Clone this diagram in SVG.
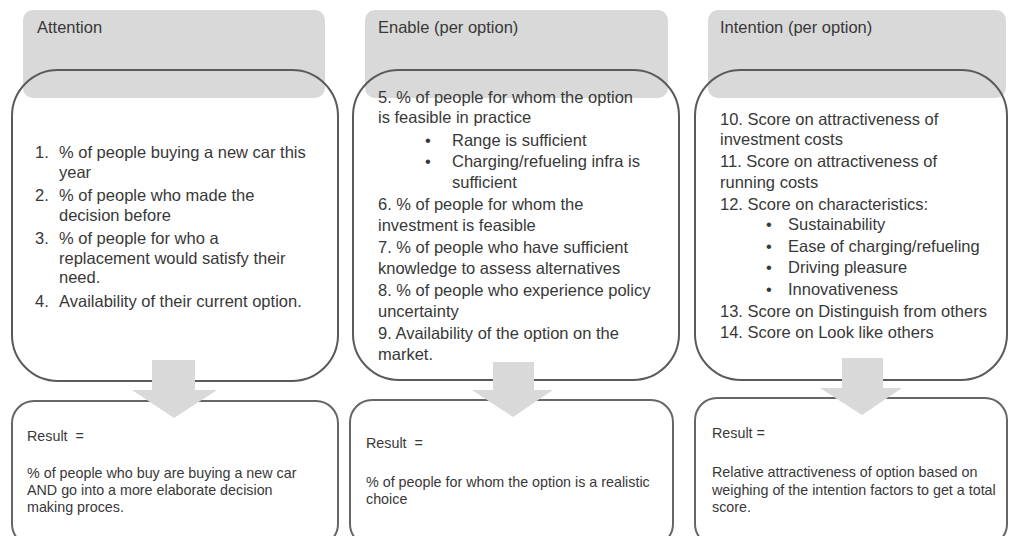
<svg xmlns="http://www.w3.org/2000/svg" width="1009" height="536" viewBox="0 0 1009 536">
<style>
.hdr{fill:#d9d9d9;stroke:none}
.body{fill:none;stroke:#5a5a5a;stroke-width:2}
.res{fill:#fff;stroke:#666;stroke-width:2}
.arrow{fill:#d9d9d9;stroke:none}
text{font-family:"Liberation Sans",Arial,sans-serif;fill:#383838}
.h{font-size:16.5px}
.t{font-size:16.5px}
.r{font-size:14.3px;fill:#404040}
</style>
<rect width="1009" height="536" fill="#fff"/>
<g id="attention">
<rect class="hdr" x="23" y="10" width="302" height="88" rx="10"/>
<text class="h" x="37" y="33">Attention</text>
<rect class="body" x="12" y="70" width="326" height="311" rx="46"/>
<g class="t">
<text x="35" y="158">1.</text><text x="59" y="158">% of people buying a new car this</text>
<text x="59" y="177.5">year</text>
<text x="35" y="201">2.</text><text x="59" y="201">% of people who made the</text>
<text x="59" y="220.5">decision before</text>
<text x="35" y="244">3.</text><text x="59" y="244">% of people for who a</text>
<text x="59" y="263.5">replacement would satisfy their</text>
<text x="59" y="283">need.</text>
<text x="35" y="306.5">4.</text><text x="59" y="306.5">Availability of their current option.</text>
</g>
</g>
<g id="enable">
<rect class="hdr" x="365" y="10" width="303" height="88" rx="10"/>
<text class="h" x="378" y="33">Enable (per option)</text>
<rect class="body" x="353" y="70" width="326" height="310" rx="46"/>
<g class="t">
<text x="378" y="103">5. % of people for whom the option</text>
<text x="378" y="123">is feasible in practice</text>
<text x="425" y="146">•</text><text x="452" y="146">Range is sufficient</text>
<text x="425" y="167">•</text><text x="452" y="167">Charging/refueling infra is</text>
<text x="452" y="188">sufficient</text>
<text x="378" y="210">6. % of people for whom the</text>
<text x="378" y="231">investment is feasible</text>
<text x="378" y="253">7. % of people who have sufficient</text>
<text x="378" y="274">knowledge to assess alternatives</text>
<text x="378" y="296">8. % of people who experience policy</text>
<text x="378" y="317">uncertainty</text>
<text x="378" y="339">9. Availability of the option on the</text>
<text x="378" y="360">market.</text>
</g>
</g>
<g id="intention">
<rect class="hdr" x="708" y="10" width="298" height="88" rx="10"/>
<text class="h" x="720" y="33">Intention (per option)</text>
<rect class="body" x="695" y="70" width="312" height="310" rx="46"/>
<g class="t">
<text x="720" y="125">10. Score on attractiveness of</text>
<text x="720" y="145">investment costs</text>
<text x="720" y="167">11. Score on attractiveness of</text>
<text x="720" y="188">running costs</text>
<text x="720" y="210">12. Score on characteristics:</text>
<text x="766" y="230">•</text><text x="788" y="230">Sustainability</text>
<text x="766" y="252">•</text><text x="788" y="252">Ease of charging/refueling</text>
<text x="766" y="273">•</text><text x="788" y="273">Driving pleasure</text>
<text x="766" y="295">•</text><text x="788" y="295">Innovativeness</text>
<text x="720" y="317">13. Score on Distinguish from others</text>
<text x="720" y="338">14. Score on Look like others</text>
</g>
</g>
<g id="result-attention">
<rect class="res" x="12" y="401" width="326" height="145" rx="22"/>
<g class="r">
<text x="27" y="441">Result&#160; =</text>
<text x="27" y="478">% of people who buy are buying a new car</text>
<text x="27" y="495">AND go into a more elaborate decision</text>
<text x="27" y="512">making proces.</text>
</g>
</g>
<g id="result-enable">
<rect class="res" x="350" y="400" width="323" height="146" rx="22"/>
<g class="r">
<text x="366" y="448">Result&#160; =</text>
<text x="366" y="487">% of people for whom the option is a realistic</text>
<text x="366" y="504">choice</text>
</g>
</g>
<g id="result-intention">
<rect class="res" x="695" y="398" width="312" height="148" rx="22"/>
<g class="r">
<text x="712" y="438">Result =</text>
<text x="712" y="477">Relative attractiveness of option based on</text>
<text x="712" y="495">weighing of the intention factors to get a total</text>
<text x="712" y="512">score.</text>
</g>
</g>
<g id="connectors">
<polygon class="arrow" points="152,360 195,360 195,390 217,390 174,418 132,390 152,390"/>
<polygon class="arrow" points="493,362 534,362 534,390 553,390 513,417 472,390 493,390"/>
<polygon class="arrow" points="842,358 883,358 883,388 902,388 862,415 820,388 842,388"/>
</g>
</svg>
